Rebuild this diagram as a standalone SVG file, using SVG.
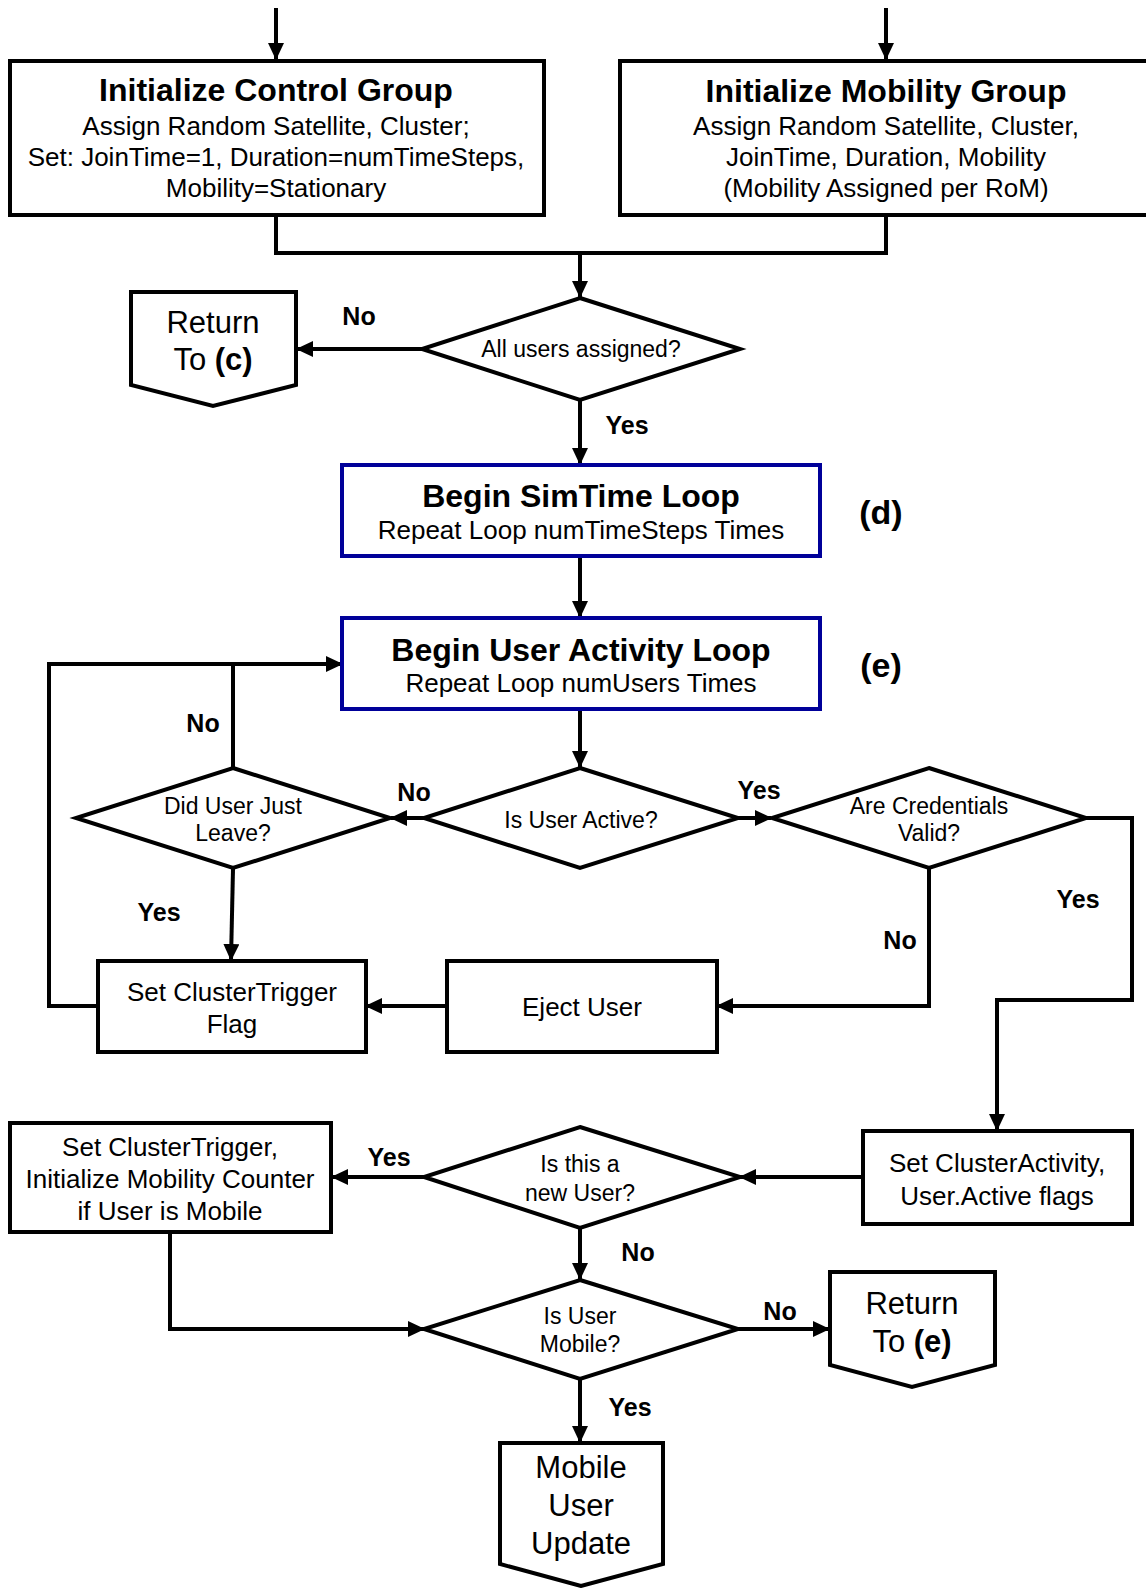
<svg xmlns="http://www.w3.org/2000/svg" width="1146" height="1588" viewBox="0 0 1146 1588">
<style>
.box{fill:#fff;stroke:#000;stroke-width:4}
.blue{fill:#fff;stroke:#000099;stroke-width:4}
.ln{fill:none;stroke:#000;stroke-width:4}
text{font-family:"Liberation Sans",Arial,sans-serif;fill:#000;text-anchor:middle}
.t{font-size:32px;font-weight:bold}
.b{font-size:26px}
.d{font-size:23px}
.r{font-size:31px}
.lb{font-size:25px;font-weight:bold}
.tag{font-size:34px;font-weight:bold}
</style>
<defs>
<marker id="ah" markerUnits="userSpaceOnUse" markerWidth="17" markerHeight="16" refX="16" refY="8" orient="auto">
<path d="M0,0 L17,8 L0,16 z" fill="#000"/>
</marker>
</defs>
<rect width="1146" height="1588" fill="#fff"/>

<g id="connectors">
<line class="ln" x1="276" y1="8" x2="276" y2="59" marker-end="url(#ah)"/>
<line class="ln" x1="886" y1="8" x2="886" y2="59" marker-end="url(#ah)"/>
<polyline class="ln" points="276,216 276,253 886,253 886,216"/>
<line class="ln" x1="580" y1="253" x2="580" y2="297" marker-end="url(#ah)"/>
<line class="ln" x1="423" y1="349" x2="297" y2="349" marker-end="url(#ah)"/>
<line class="ln" x1="580" y1="400" x2="580" y2="464" marker-end="url(#ah)"/>
<line class="ln" x1="580" y1="557" x2="580" y2="617" marker-end="url(#ah)"/>
<line class="ln" x1="580" y1="710" x2="580" y2="767" marker-end="url(#ah)"/>
<line class="ln" x1="424" y1="818" x2="391" y2="818" marker-end="url(#ah)"/>
<line class="ln" x1="738" y1="818" x2="771" y2="818" marker-end="url(#ah)"/>
<polyline class="ln" points="233,767 233,664"/>
<polyline class="ln" points="97,1006 49,1006 49,664 342,664" marker-end="url(#ah)"/>
<line class="ln" x1="233" y1="869" x2="231" y2="960" marker-end="url(#ah)"/>
<polyline class="ln" points="929,869 929,1006 717,1006" marker-end="url(#ah)"/>
<line class="ln" x1="446" y1="1006" x2="366" y2="1006" marker-end="url(#ah)"/>
<polyline class="ln" points="1086,818 1132,818 1132,1000 997,1000 997,1130" marker-end="url(#ah)"/>
<line class="ln" x1="862" y1="1177" x2="740" y2="1177" marker-end="url(#ah)"/>
<line class="ln" x1="424" y1="1177" x2="332" y2="1177" marker-end="url(#ah)"/>
<line class="ln" x1="580" y1="1228" x2="580" y2="1279" marker-end="url(#ah)"/>
<polyline class="ln" points="170,1233 170,1329 424,1329" marker-end="url(#ah)"/>
<line class="ln" x1="738" y1="1329" x2="829" y2="1329" marker-end="url(#ah)"/>
<line class="ln" x1="580" y1="1380" x2="580" y2="1442" marker-end="url(#ah)"/>
<text class="lb" x="359" y="325">No</text>
<text class="lb" x="627" y="434">Yes</text>
<text class="lb" x="203" y="732">No</text>
<text class="lb" x="414" y="801">No</text>
<text class="lb" x="759" y="799">Yes</text>
<text class="lb" x="159" y="921">Yes</text>
<text class="lb" x="900" y="949">No</text>
<text class="lb" x="1078" y="908">Yes</text>
<text class="lb" x="389" y="1166">Yes</text>
<text class="lb" x="638" y="1261">No</text>
<text class="lb" x="780" y="1320">No</text>
<text class="lb" x="630" y="1416">Yes</text>
</g>

<g id="control-group">
<rect class="box" x="10" y="61" width="534" height="154"/>
<text class="t" x="276" y="101">Initialize Control Group</text>
<text class="b" x="276" y="135">Assign Random Satellite, Cluster;</text>
<text class="b" x="276" y="166">Set: JoinTime=1, Duration=numTimeSteps,</text>
<text class="b" x="276" y="197">Mobility=Stationary</text>
</g>

<g id="mobility-group">
<rect class="box" x="620" y="61" width="530" height="154"/>
<text class="t" x="886" y="102">Initialize Mobility Group</text>
<text class="b" x="886" y="135">Assign Random Satellite, Cluster,</text>
<text class="b" x="886" y="166">JoinTime, Duration, Mobility</text>
<text class="b" x="886" y="197">(Mobility Assigned per RoM)</text>
</g>

<g id="all-users-assigned">
<polygon class="box" points="580,298 740,349 580,400 422,349"/>
<text class="d" x="581" y="357">All users assigned?</text>
</g>

<g id="return-c">
<polygon class="box" points="131,292 296,292 296,385 213,406 131,385"/>
<text class="r" x="213" y="333">Return</text>
<text class="r" x="213" y="370">To <tspan font-weight="bold">(c)</tspan></text>
</g>

<g id="simtime-loop">
<rect class="blue" x="342" y="465" width="478" height="91"/>
<text class="t" x="581" y="507">Begin SimTime Loop</text>
<text class="b" x="581" y="539">Repeat Loop numTimeSteps Times</text>
</g>
<text class="tag" x="881" y="524">(d)</text>

<g id="user-activity-loop">
<rect class="blue" x="342" y="618" width="478" height="91"/>
<text class="t" x="581" y="661">Begin User Activity Loop</text>
<text class="b" x="581" y="692">Repeat Loop numUsers Times</text>
</g>
<text class="tag" x="881" y="677">(e)</text>

<g id="is-user-active">
<polygon class="box" points="580,768 738,818 580,868 424,818"/>
<text class="d" x="581" y="828">Is User Active?</text>
</g>

<g id="did-user-leave">
<polygon class="box" points="233,768 390,818 233,868 76,818"/>
<text class="d" x="233" y="814">Did User Just</text>
<text class="d" x="233" y="841">Leave?</text>
</g>

<g id="credentials-valid">
<polygon class="box" points="929,768 1086,818 929,868 772,818"/>
<text class="d" x="929" y="814">Are Credentials</text>
<text class="d" x="929" y="841">Valid?</text>
</g>

<g id="set-clustertrigger-flag">
<rect class="box" x="98" y="961" width="268" height="91"/>
<text class="b" x="232" y="1001">Set ClusterTrigger</text>
<text class="b" x="232" y="1033">Flag</text>
</g>

<g id="eject-user">
<rect class="box" x="447" y="961" width="270" height="91"/>
<text class="b" x="582" y="1016">Eject User</text>
</g>

<g id="set-clusteractivity">
<rect class="box" x="863" y="1131" width="269" height="93"/>
<text class="b" x="997" y="1172">Set ClusterActivity,</text>
<text class="b" x="997" y="1205">User.Active flags</text>
</g>

<g id="new-user">
<polygon class="box" points="580,1127 740,1177 580,1228 424,1177"/>
<text class="d" x="580" y="1172">Is this a</text>
<text class="d" x="580" y="1201">new User?</text>
</g>

<g id="set-clustertrigger-init">
<rect class="box" x="10" y="1123" width="321" height="109"/>
<text class="b" x="170" y="1156">Set ClusterTrigger,</text>
<text class="b" x="170" y="1188">Initialize Mobility Counter</text>
<text class="b" x="170" y="1220">if User is Mobile</text>
</g>

<g id="user-mobile">
<polygon class="box" points="580,1280 738,1329 580,1379 424,1329"/>
<text class="d" x="580" y="1324">Is User</text>
<text class="d" x="580" y="1352">Mobile?</text>
</g>

<g id="return-e">
<polygon class="box" points="830,1272 995,1272 995,1365 912,1387 830,1365"/>
<text class="r" x="912" y="1314">Return</text>
<text class="r" x="912" y="1352">To <tspan font-weight="bold">(e)</tspan></text>
</g>

<g id="mobile-user-update">
<polygon class="box" points="500,1443 663,1443 663,1564 581,1586 500,1564"/>
<text class="r" x="581" y="1478">Mobile</text>
<text class="r" x="581" y="1516">User</text>
<text class="r" x="581" y="1554">Update</text>
</g>
</svg>
